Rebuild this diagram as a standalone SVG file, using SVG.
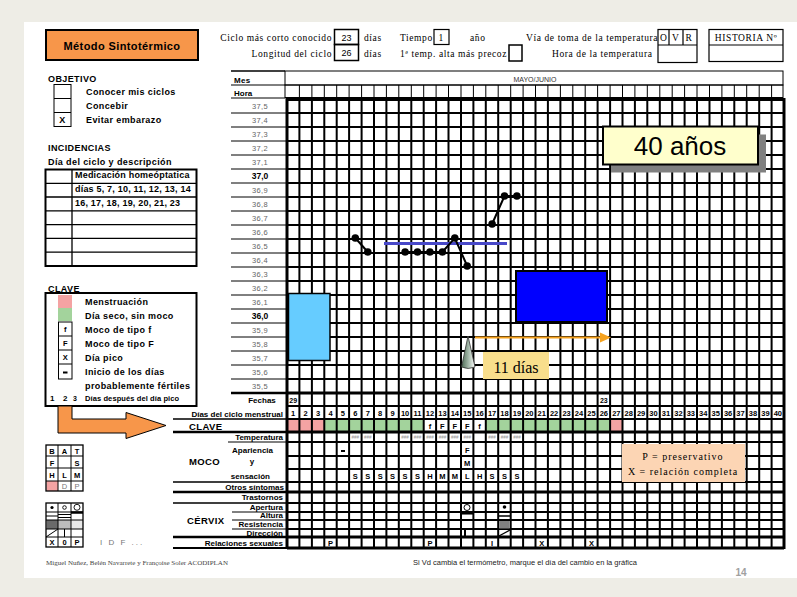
<svg xmlns="http://www.w3.org/2000/svg" width="797" height="597" viewBox="0 0 797 597">
<defs>
<style>
.s{font-family:"Liberation Serif","Times New Roman",serif;font-size:9.5px;letter-spacing:0.6px;fill:#000}
.b{font-family:"Liberation Sans",Arial,sans-serif;font-weight:bold;font-size:9px;letter-spacing:0.4px;fill:#000}
.l{font-family:"Liberation Sans",Arial,sans-serif;font-weight:bold;font-size:8px;fill:#000;text-anchor:end}
.t{font-family:"Liberation Sans",Arial,sans-serif;font-size:7.5px;fill:#666;text-anchor:middle;letter-spacing:0.3px}
.tb{font-family:"Liberation Sans",Arial,sans-serif;font-size:8.5px;font-weight:bold;fill:#000;text-anchor:middle}
.d{font-family:"Liberation Sans",Arial,sans-serif;font-weight:bold;font-size:7.5px;fill:#000;text-anchor:middle}
.h{font-family:"Liberation Sans",Arial,sans-serif;font-size:4.5px;fill:#999;text-anchor:middle}
.ln{stroke:#000;fill:none}
.dot{fill:#000}
.pk{fill:#F4A3A3}
.gr{fill:#A3D39C}
</style>
<linearGradient id="cone" x1="0" y1="0" x2="1" y2="0">
<stop offset="0" stop-color="#4d6b55"/>
<stop offset="0.55" stop-color="#a9bcae"/>
<stop offset="1" stop-color="#ffffff"/>
</linearGradient>
</defs>
<rect width="797" height="597" fill="#EEEDE6"/>
<rect x="24" y="22" width="773" height="556" fill="#fff"/>

<g id="title">
<rect x="46" y="30" width="152" height="30" fill="#F7964A" stroke="#000" stroke-width="2"/>
<text x="122" y="49.5" class="b" style="font-size:11px;text-anchor:middle">Método Sintotérmico</text>
</g>

<g id="header">
<text class="s" x="332" y="41" text-anchor="end">Ciclo más corto conocido</text>
<rect x="334.5" y="29.5" width="24" height="15" fill="none" stroke="#000" stroke-width="1.5"/>
<text x="346.5" y="40.5" class="d" style="font-weight:normal;font-size:9px">23</text>
<text class="s" x="332" y="56.5" text-anchor="end">Longitud del ciclo</text>
<rect x="334.5" y="44.5" width="24" height="16" fill="none" stroke="#000" stroke-width="1.5"/>
<text x="346.5" y="56" class="d" style="font-weight:normal;font-size:9px">26</text>
<text class="s" x="364" y="41">días</text>
<text class="s" x="364" y="56.5">días</text>
<text class="s" x="400" y="41">Tiempo</text>
<rect x="434" y="29.5" width="15" height="15" fill="none" stroke="#000" stroke-width="1.2"/>
<text class="s" x="438.5" y="40.5">1</text>
<text class="s" x="470" y="41">año</text>
<text class="s" x="400" y="56.5">1ª temp. alta más precoz</text>
<rect x="509" y="45" width="13" height="16" fill="none" stroke="#000" stroke-width="1.5"/>
<text class="s" x="526" y="41">Vía de toma de la temperatura</text>
<text class="s" x="552" y="56.5">Hora de la temperatura</text>
<rect x="658" y="29.5" width="39" height="33" fill="none" stroke="#000" stroke-width="1.2"/>
<path class="ln" stroke-width="1.2" d="M658 45H697M669 29.5V45M683 29.5V45"/>
<text class="s" x="660" y="40.5">O</text>
<text class="s" x="672" y="40.5">V</text>
<text class="s" x="685.5" y="40.5">R</text>
<rect x="709" y="29.5" width="74" height="32" fill="none" stroke="#000" stroke-width="1.2"/>
<path class="ln" stroke-width="1.2" d="M709 45H783"/>
<text class="s" x="746" y="40.5" text-anchor="middle">HISTORIA Nº</text>
</g>

<g id="objetivo">
<text class="b" x="48" y="81.5">OBJETIVO</text>
<rect x="54" y="84.5" width="17" height="42" fill="none" stroke="#000" stroke-width="1"/>
<path class="ln" d="M54 98.5H71M54 112.5H71"/>
<text class="b" x="86" y="95">Conocer mis ciclos</text>
<text class="b" x="86" y="108.5">Concebir</text>
<text class="b" x="86" y="122.5">Evitar embarazo</text>
<text class="b" x="62.5" y="122.5" text-anchor="middle">X</text>
</g>

<g id="incidencias">
<text class="b" x="48" y="151">INCIDENCIAS</text>
<text class="b" x="48" y="165">Día del ciclo y descripción</text>
<rect x="45.5" y="169.5" width="151" height="96.5" fill="none" stroke="#000" stroke-width="2"/>
<path class="ln" stroke-width="1.3" d="M72 169.5V266M45.5 183.3H196.5M45.5 197H196.5M45.5 210.8H196.5M45.5 224.6H196.5M45.5 238.4H196.5M45.5 252.2H196.5"/>
<text class="b" x="75" y="178" style="letter-spacing:0.2px">Medicación homeóptatica</text>
<text class="b" x="75" y="192" style="letter-spacing:0.2px">días 5, 7, 10, 11, 12, 13, 14</text>
<text class="b" x="75" y="206" style="letter-spacing:0.2px">16, 17, 18, 19, 20, 21, 23</text>
</g>

<g id="clave-legend">
<text class="b" x="48" y="291.5">CLAVE</text>
<rect x="45.5" y="293" width="151" height="113" fill="none" stroke="#000" stroke-width="2"/>
<rect x="58" y="295" width="14" height="13" class="pk"/>
<rect x="58" y="308" width="14" height="13" class="gr"/>
<rect x="58.5" y="322" width="13.5" height="57" fill="none" stroke="#000" stroke-width="1"/>
<path class="ln" d="M58.5 336H72M58.5 350H72M58.5 364H72"/>
<text class="d" x="65.2" y="332">f</text>
<text class="d" x="65.2" y="346">F</text>
<text class="d" x="65.2" y="360">X</text>
<rect x="63" y="371.5" width="4.5" height="2" fill="#000"/>
<text class="b" x="85" y="304.5">Menstruación</text>
<text class="b" x="85" y="318.5">Día seco, sin moco</text>
<text class="b" x="85" y="332.5">Moco de tipo f</text>
<text class="b" x="85" y="346.5">Moco de tipo F</text>
<text class="b" x="85" y="360.5">Día pico</text>
<text class="b" x="85" y="374.5">Inicio de los días</text>
<text class="b" x="85" y="388.5">probablemente fértiles</text>
<text class="b" x="50" y="401" style="font-size:8px">1</text>
<text class="b" x="63" y="401" style="font-size:8px">2</text>
<text class="b" x="73" y="401" style="font-size:7px">3</text>
<text class="b" x="85" y="401" style="font-size:7.5px;letter-spacing:0.1px">Días después del día pico</text>
</g>

<g id="big-arrow">
<path d="M58 406H72V419H126V412.5L166 425.5L126 438.5V433H58Z" fill="#F7964A" stroke="#000" stroke-width="1"/>
</g>

<g id="bat-table">
<rect x="46.5" y="481" width="11.5" height="10" class="pk"/>
<rect x="46" y="445" width="37" height="46" fill="none" stroke="#000" stroke-width="1.3"/>
<path class="ln" d="M58 445V491M71 445V491M46 456H83M46 468H83M46 481H83"/>
<text class="d" x="52" y="454">B</text><text class="d" x="64.5" y="454">A</text><text class="d" x="77" y="454">T</text>
<text class="d" x="52" y="465.5">F</text><text class="d" x="77" y="465.5">S</text>
<text class="d" x="52" y="478">H</text><text class="d" x="64.5" y="478">L</text><text class="d" x="77" y="478">M</text>
<text class="d" x="64.5" y="489" style="fill:#777;font-weight:normal">D</text><text class="d" x="77" y="489" style="fill:#777;font-weight:normal">P</text>
</g>

<g id="cervix-table">
<rect x="46.5" y="520" width="11.5" height="9" fill="#6a6a6a"/>
<rect x="58" y="520" width="13" height="9" fill="#bdbdbd"/>
<rect x="71" y="520" width="12" height="9" fill="#e8e8e8"/>
<rect x="46" y="503" width="37" height="44" fill="none" stroke="#000" stroke-width="1.3"/>
<path class="ln" d="M58 503V547M71 503V547M46 512H83M46 520H83M46 529H83M46 537H83"/>
<circle cx="52" cy="507.5" r="1.6" fill="#000"/>
<circle cx="64.5" cy="507.5" r="1.8" fill="none" stroke="#000" stroke-width="0.9"/>
<circle cx="77" cy="507.3" r="3" fill="none" stroke="#000" stroke-width="0.9"/>
<path class="ln" stroke-width="2.5" d="M71 512.5H83"/>
<path class="ln" d="M46 516H58M58 514.5H71M58 517.5H71M46 537L58 529M64.5 529V537"/>
<text class="d" x="52" y="545">X</text><text class="d" x="64.5" y="545">0</text><text class="d" x="77" y="545">P</text>
<text x="100" y="545" style="font-family:'Liberation Sans',Arial,sans-serif;font-size:8px;fill:#777;letter-spacing:2px">I D F ...</text>
</g>

<g id="chart-frame">
<rect x="285" y="71" width="498" height="14" fill="none" stroke="#000" stroke-width="1"/>
<rect x="285" y="85" width="498" height="12.5" fill="none" stroke="#000" stroke-width="1"/>
<path class="ln" stroke-width="1.5" d="M231 71H285"/>
<path class="ln" d="M231 85H285M231 98H285"/>
<path class="ln" stroke-width="1" d="M299.4 85V98M311.9 85V98M324.3 85V98M336.7 85V98M349.1 85V98M361.6 85V98M374 85V98M386.4 85V98M398.8 85V98M411.3 85V98M423.7 85V98M436.1 85V98M448.5 85V98M461 85V98M473.4 85V98M485.8 85V98M498.2 85V98M510.7 85V98M523.1 85V98M535.5 85V98M547.9 85V98M560.4 85V98M572.8 85V98M585.2 85V98M597.6 85V98M610.1 85V98M622.5 85V98M634.9 85V98M647.3 85V98M659.8 85V98M672.2 85V98M684.6 85V98M697 85V98M709.5 85V98M721.9 85V98M734.3 85V98M746.7 85V98M759.2 85V98M771.6 85V98"/>
<text class="l" x="234" y="82.5" style="text-anchor:start;letter-spacing:0.3px">Mes</text>
<text class="l" x="234" y="95.5" style="text-anchor:start">Hora</text>
<text x="535" y="81.5" style="font-family:'Liberation Sans',Arial,sans-serif;font-size:7px;fill:#333;text-anchor:middle">MAYO/JUNIO</text>
<path class="ln" stroke-width="1" d="M231 113H287M231 127H287M231 141H287M231 155H287M231 169H287M231 183H287M231 197H287M231 211H287M231 225H287M231 239H287M231 253H287M231 267H287M231 281H287M231 295H287M231 309H287M231 323H287M231 337H287M231 351H287M231 365H287M231 379H287"/>
<path class="ln" stroke-width="2.5" d="M231 393H287"/>
</g>

<g id="temp-labels">
<text class="t" x="260" y="108.7">37,5</text>
<text class="t" x="260" y="122.7">37,4</text>
<text class="t" x="260" y="136.7">37,3</text>
<text class="t" x="260" y="150.7">37,2</text>
<text class="t" x="260" y="164.7">37,1</text>
<text class="tb" x="260" y="179">37,0</text>
<text class="t" x="260" y="192.7">36,9</text>
<text class="t" x="260" y="206.7">36,8</text>
<text class="t" x="260" y="220.7">36,7</text>
<text class="t" x="260" y="234.7">36,6</text>
<text class="t" x="260" y="248.7">36,5</text>
<text class="t" x="260" y="262.7">36,4</text>
<text class="t" x="260" y="276.7">36,3</text>
<text class="t" x="260" y="290.7">36,2</text>
<text class="t" x="260" y="304.7">36,1</text>
<text class="tb" x="260" y="319">36,0</text>
<text class="t" x="260" y="332.7">35,9</text>
<text class="t" x="260" y="346.7">35,8</text>
<text class="t" x="260" y="360.7">35,7</text>
<text class="t" x="260" y="374.7">35,6</text>
<text class="t" x="260" y="388.7">35,5</text>
</g>

<g id="row-labels">
<path class="ln" stroke-width="1.5" d="M173 419H287M173 482H287M173 503H287"/>
<path class="ln" stroke-width="2.5" d="M173 432H287M173 492H287M173 537H287"/>
<path class="ln" stroke-width="1" d="M228 442H287M232 512H287M232 520H287M232 529H287"/>
<path class="ln" stroke-width="2" d="M173 548H287"/>
<text class="l" x="262" y="403" style="text-anchor:middle">Fechas</text>
<text class="l" x="283" y="416.5">Días del ciclo menstrual</text>
<text class="b" x="189" y="429.5" style="font-size:9.5px">CLAVE</text>
<text class="l" x="283" y="439.5">Temperatura</text>
<text class="l" x="273" y="453">Apariencia</text>
<text class="l" x="252" y="464" style="text-anchor:middle">y</text>
<text class="l" x="270" y="479">sensación</text>
<text class="b" x="189" y="465" style="font-size:9.5px">MOCO</text>
<text class="l" x="284" y="490">Otros síntomas</text>
<text class="l" x="283" y="500">Trastornos</text>
<text class="l" x="283" y="510">Apertura</text>
<text class="l" x="283" y="518">Altura</text>
<text class="l" x="283" y="527">Resistencia</text>
<text class="l" x="283" y="535.5">Dirección</text>
<text class="l" x="283" y="545.5">Relaciones sexuales</text>
<text class="b" x="187" y="524" style="font-size:9.5px">CÉRVIX</text>
</g>

<g id="clave-row">
<rect x="287" y="419" width="37.3" height="13" class="pk"/>
<rect x="324.3" y="419" width="99.4" height="13" class="gr"/>
<rect x="485.8" y="419" width="124.3" height="13" class="gr"/>
<rect x="610.1" y="419" width="12.4" height="13" class="pk"/>
</g>

<g id="grid">
<path class="ln" stroke-width="2" d="M299.4 99V548M311.9 99V548M324.3 99V548M336.7 99V548M349.1 99V548M361.6 99V548M374 99V548M386.4 99V548M398.8 99V548M411.3 99V548M423.7 99V548M436.1 99V548M448.5 99V548M461 99V548M473.4 99V548M485.8 99V548M498.2 99V548M510.7 99V548M523.1 99V548M535.5 99V548M547.9 99V548M560.4 99V548M572.8 99V548M585.2 99V548M597.6 99V548M610.1 99V548M622.5 99V548M634.9 99V548M647.3 99V548M659.8 99V548M672.2 99V548M684.6 99V548M697 99V548M709.5 99V548M721.9 99V548M734.3 99V548M746.7 99V548M759.2 99V548M771.6 99V548"/>
<path class="ln" stroke-width="3" d="M287 98V549M784 98V549"/>
<path class="ln" stroke-width="2" d="M287 113H784M287 127H784M287 141H784M287 155H784M287 169H784M287 183H784M287 197H784M287 211H784M287 225H784M287 239H784M287 253H784M287 267H784M287 281H784M287 295H784M287 309H784M287 323H784M287 337H784M287 351H784M287 365H784M287 379H784M287 406H784M287 419H784M287 442H784M287 456H784M287 469H784M287 482H784M287 503H784M287 512H784M287 520H784M287 529H784"/>
<path class="ln" stroke-width="3" d="M287 99.5H784M287 393H784M287 432H784M287 492H784M287 537H784M287 548H784"/>
</g>

<g id="table-text">
<text class="d" x="293.2" y="403" style="font-size:7px">29</text>
<text class="d" x="603.8" y="403" style="font-size:7px">23</text>
<text class="d" x="293.2" y="416">1</text><text class="d" x="305.6" y="416">2</text><text class="d" x="318.1" y="416">3</text><text class="d" x="330.5" y="416">4</text><text class="d" x="342.9" y="416">5</text><text class="d" x="355.3" y="416">6</text><text class="d" x="367.8" y="416">7</text><text class="d" x="380.2" y="416">8</text><text class="d" x="392.6" y="416">9</text><text class="d" x="405.1" y="416">10</text>
<text class="d" x="417.5" y="416">11</text><text class="d" x="429.9" y="416">12</text><text class="d" x="442.4" y="416">13</text><text class="d" x="454.8" y="416">14</text><text class="d" x="467.2" y="416">15</text><text class="d" x="479.6" y="416">16</text><text class="d" x="492.1" y="416">17</text><text class="d" x="504.5" y="416">18</text><text class="d" x="516.9" y="416">19</text><text class="d" x="529.3" y="416">20</text>
<text class="d" x="541.7" y="416">21</text><text class="d" x="554.1" y="416">22</text><text class="d" x="566.6" y="416">23</text><text class="d" x="579" y="416">24</text><text class="d" x="591.4" y="416">25</text><text class="d" x="603.8" y="416">26</text><text class="d" x="616.3" y="416">27</text><text class="d" x="628.7" y="416">28</text><text class="d" x="641.1" y="416">29</text><text class="d" x="653.5" y="416">30</text>
<text class="d" x="666" y="416">31</text><text class="d" x="678.4" y="416">32</text><text class="d" x="690.8" y="416">33</text><text class="d" x="703.2" y="416">34</text><text class="d" x="715.7" y="416">35</text><text class="d" x="728.1" y="416">36</text><text class="d" x="740.5" y="416">37</text><text class="d" x="752.9" y="416">38</text><text class="d" x="765.4" y="416">39</text><text class="d" x="777.8" y="416">40</text>
<text class="d" x="429.9" y="429">f</text><text class="d" x="442.4" y="429">F</text><text class="d" x="454.8" y="429">F</text><text class="d" x="467.2" y="429">F</text><text class="d" x="479.6" y="429">f</text>
<text class="h" x="355.3" y="439">###</text><text class="h" x="367.8" y="439">###</text><text class="h" x="405.1" y="439">###</text><text class="h" x="417.5" y="439">###</text><text class="h" x="429.9" y="439">###</text><text class="h" x="442.4" y="439">###</text><text class="h" x="454.8" y="439">###</text><text class="h" x="467.2" y="439">###</text><text class="h" x="492.1" y="439">###</text><text class="h" x="504.5" y="439">###</text><text class="h" x="516.9" y="439">###</text>
<rect x="341" y="450" width="4" height="2" fill="#000"/>
<text class="d" x="467.2" y="452.5">F</text>
<text class="d" x="467.2" y="466">M</text>
<text class="d" x="355.3" y="479">S</text><text class="d" x="367.8" y="479">S</text><text class="d" x="380.2" y="479">S</text><text class="d" x="392.6" y="479">S</text><text class="d" x="405.1" y="479">S</text><text class="d" x="417.5" y="479">S</text><text class="d" x="429.9" y="479">H</text><text class="d" x="442.4" y="479">M</text><text class="d" x="454.8" y="479">M</text><text class="d" x="467.2" y="479">L</text><text class="d" x="479.6" y="479">H</text><text class="d" x="492.1" y="479">S</text><text class="d" x="504.5" y="479">S</text><text class="d" x="516.9" y="479">S</text>
<circle cx="467" cy="507.5" r="3" fill="none" stroke="#000" stroke-width="1"/>
<path class="ln" stroke-width="2.5" d="M461 513.3H473"/>
<path class="ln" stroke-width="2" d="M465 530V537"/>
<circle cx="504.5" cy="507" r="1.8" fill="#000"/>
<path class="ln" stroke-width="1.5" d="M498.2 516H510.7"/>
<rect x="499.2" y="521" width="10.5" height="7.5" fill="#808080"/>
<path class="ln" stroke-width="1.3" d="M498 536.5L510 530"/>
<text class="d" x="330.5" y="545.5">P</text><text class="d" x="429.9" y="545.5">P</text><text class="d" x="492.1" y="545.5">I</text><text class="d" x="541.7" y="545.5">X</text><text class="d" x="591.4" y="545.5">X</text>
</g>

<g id="box-lightblue"><rect x="288.5" y="293.5" width="41.5" height="67" fill="#66CCFF" stroke="#000" stroke-width="1.5"/></g>
<g id="box-blue"><rect x="516" y="271" width="91" height="51" fill="#0000FF" stroke="#000" stroke-width="2"/></g>
<g id="box-40">
<rect x="611" y="134.5" width="155" height="38" fill="#808080"/>
<rect x="603" y="126.5" width="155" height="38" fill="#FFFFCC" stroke="#000" stroke-width="2"/>
<text x="680" y="155" style="font-family:'Liberation Sans',Arial,sans-serif;font-size:26px;text-anchor:middle">40 años</text>
</g>
<g id="box-11">
<rect x="483" y="352" width="66" height="27" fill="#F8DE8C"/>
<text x="516" y="372.5" style="font-family:'Liberation Serif','Times New Roman',serif;font-size:16px;text-anchor:middle">11 días</text>
</g>
<g id="cone-mark">
<path d="M468 336L461.5 367Q468 370 475 367Z" fill="url(#cone)" stroke="#333" stroke-width="0.8"/>
</g>
<g id="box-legend-px">
<rect x="622" y="444" width="123" height="38" fill="#FCD5B4"/>
<text class="s" x="683" y="460" style="font-size:10px;letter-spacing:1px;text-anchor:middle">P = preservativo</text>
<text class="s" x="683" y="474.5" style="font-size:10px;letter-spacing:1px;text-anchor:middle">X = relación completa</text>
</g>

<g id="connectors">
<path d="M384 243.5H507" stroke="#4848C8" stroke-width="3" fill="none"/>
<path d="M355.3 238L367.8 252" stroke="#000" stroke-width="2" fill="none"/>
<path d="M405.1 252H442.4L454.8 238L467.2 266" stroke="#000" stroke-width="2" fill="none"/>
<path d="M492.1 224L504.5 196H516.9" stroke="#000" stroke-width="2" fill="none"/>
<path d="M475 337.5H602" stroke="#F5A21F" stroke-width="2" fill="none"/>
<path d="M600 332.5L611 337.5L600 342.5Z" fill="#F5A21F"/>
</g>

<g id="temperature-points">
<circle id="p6" class="dot" cx="355.3" cy="238" r="3.8"/>
<circle id="p7" class="dot" cx="367.8" cy="252" r="3.8"/>
<circle id="p10" class="dot" cx="405.1" cy="252" r="3.8"/>
<circle id="p11" class="dot" cx="417.5" cy="252" r="3.8"/>
<circle id="p12" class="dot" cx="429.9" cy="252" r="3.8"/>
<circle id="p13" class="dot" cx="442.4" cy="252" r="3.8"/>
<circle id="p14" class="dot" cx="454.8" cy="238" r="3.8"/>
<circle id="p15" class="dot" cx="467.2" cy="266" r="3.8"/>
<circle id="p17" class="dot" cx="492.1" cy="224" r="3.8"/>
<circle id="p18" class="dot" cx="504.5" cy="196" r="3.8"/>
<circle id="p19" class="dot" cx="516.9" cy="196" r="3.8"/>
</g>

<g id="footer">
<text x="46" y="565" style="font-family:'Liberation Serif','Times New Roman',serif;font-size:7px;fill:#444">Miguel Nuñez, Belén Navarrete y Françoise Soler ACODIPLAN</text>
<text x="413" y="565" style="font-family:'Liberation Sans',Arial,sans-serif;font-size:7.5px;fill:#222">Si Vd cambia el termómetro, marque el día del cambio en la gráfica</text>
<text x="741" y="575.5" style="font-family:'Liberation Sans',Arial,sans-serif;font-size:10px;font-weight:bold;fill:#A0A0A0;text-anchor:middle">14</text>
</g>
</svg>
